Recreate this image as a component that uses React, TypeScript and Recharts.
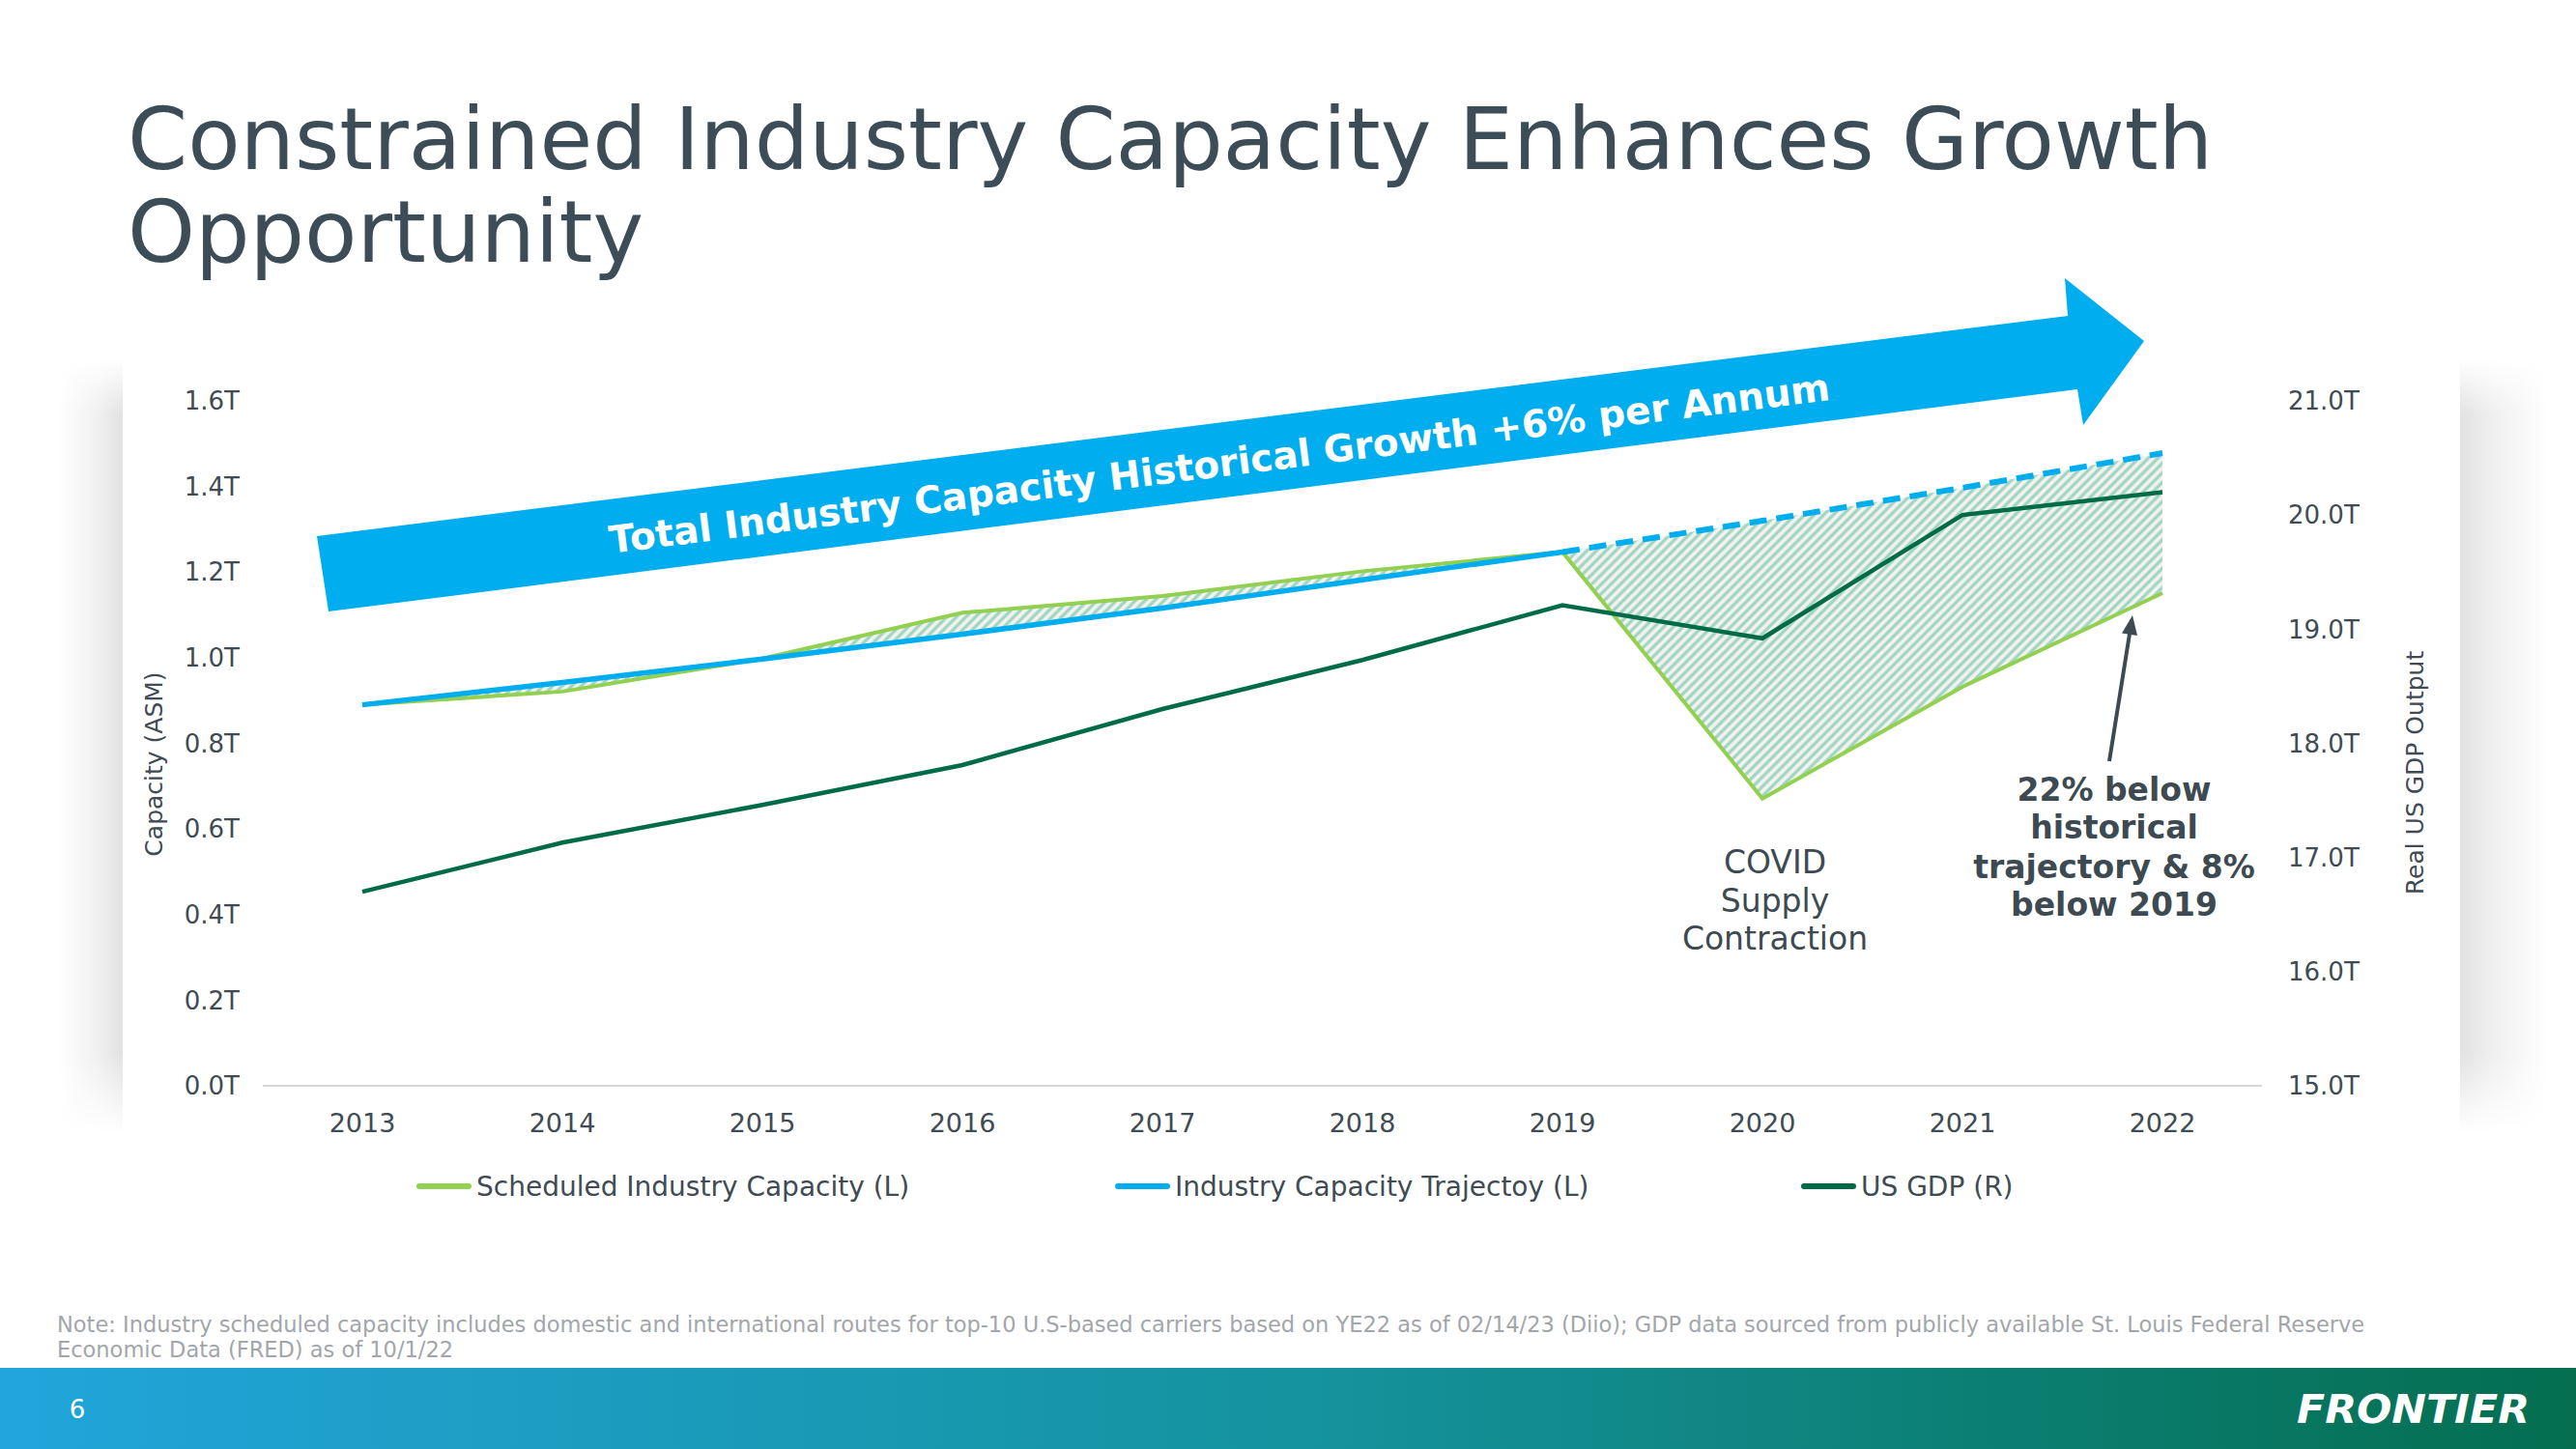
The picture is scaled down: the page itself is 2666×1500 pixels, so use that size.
import React from 'react';
import { ComposedChart, Line, Area, XAxis, YAxis } from 'recharts';

// ---------- data ----------
const years = ['2013', '2014', '2015', '2016', '2017', '2018', '2019', '2020', '2021', '2022'];
const scheduledCapacity = [0.89, 0.921, 0.998, 1.105, 1.144, 1.202, 1.247, 0.671, 0.932, 1.151]; // trillion ASM
const capacityTrajectory = [0.89, 0.942, 0.997, 1.055, 1.116, 1.182, 1.247, 1.32, 1.397, 1.478]; // trillion ASM
const usGdp = [16.7, 17.13, 17.46, 17.81, 18.3, 18.73, 19.21, 18.92, 20.0, 20.2]; // trillion USD
const projectionStartYear = '2019';
const leftTicks = [0, 0.2, 0.4, 0.6, 0.8, 1.0, 1.2, 1.4, 1.6];
const rightTicks = [15, 16, 17, 18, 19, 20, 21];
const seriesNames = ['Scheduled Industry Capacity (L)', 'Industry Capacity Trajectoy (L)', 'US GDP (R)'];
const seriesColors = ['#92d050', '#00aeef', '#006b47'];

const projIdx = years.indexOf(projectionStartYear);
const data = years.map((year, i) => ({
  year,
  scheduled: scheduledCapacity[i],
  trajSolid: i <= projIdx ? capacityTrajectory[i] : null,
  trajDashed: i >= projIdx ? capacityTrajectory[i] : null,
  gdp: usGdp[i],
  band: [Math.min(scheduledCapacity[i], capacityTrajectory[i]), Math.max(scheduledCapacity[i], capacityTrajectory[i])],
}));

const FONT = '"DejaVu Sans", Verdana, sans-serif';
const TEXT = '#3d4a52';

export default function App() {
  const legendLefts = [431, 1154, 1864];
  return (
    <div style={{ position: 'absolute', left: 0, top: 0, width: 2666, height: 1500, background: '#fff', overflow: 'hidden', fontFamily: FONT }}>
      {/* title */}
      <div style={{ position: 'absolute', left: 132, top: 96, fontSize: 89, lineHeight: '96px', color: '#3d4d57', whiteSpace: 'nowrap' }}>
        Constrained Industry Capacity Enhances Growth
        <br />
        Opportunity
      </div>

      {/* panel side shadows */}
      <div style={{ position: 'absolute', left: 60, top: 372, width: 67, height: 800, background: 'linear-gradient(to left, #e2e2e2 0%, #efefef 35%, rgba(255,255,255,0) 100%)', WebkitMaskImage: 'linear-gradient(to bottom, transparent 0%, black 7%, black 90%, transparent 100%)', maskImage: 'linear-gradient(to bottom, transparent 0%, black 7%, black 90%, transparent 100%)' }} />
      <div style={{ position: 'absolute', left: 2546, top: 372, width: 92, height: 800, background: 'linear-gradient(to right, #e2e2e2 0%, #efefef 35%, rgba(255,255,255,0) 100%)', WebkitMaskImage: 'linear-gradient(to bottom, transparent 0%, black 7%, black 90%, transparent 100%)', maskImage: 'linear-gradient(to bottom, transparent 0%, black 7%, black 90%, transparent 100%)' }} />

      {/* chart */}
      <div style={{ position: 'absolute', left: 0, top: 0 }}>
        <ComposedChart width={2666} height={1300} data={data} margin={{ top: 415, left: 152, right: 125, bottom: 116 }}>
          <defs>
            <pattern id="hatch" patternUnits="userSpaceOnUse" width="7" height="7" patternTransform="rotate(45)">
              <rect width="7" height="7" fill="#f4f3f1" />
              <line x1="3.5" y1="0" x2="3.5" y2="7" stroke="#a2d6c3" strokeWidth="3.4" />
            </pattern>
          </defs>
          <XAxis
            dataKey="year"
            padding={{ left: 103, right: 103 }}
            axisLine={{ stroke: '#d9d9d9', strokeWidth: 2 }}
            tickLine={false}
            tickSize={0}
            tickMargin={29}
            height={60}
            interval={0}
            tick={{ fontSize: 27, fill: '#404b53', fontFamily: FONT }}
          />
          <YAxis
            yAxisId="left"
            orientation="left"
            width={120}
            domain={[0, 1.6]}
            ticks={leftTicks}
            tickFormatter={(v: number) => `${v.toFixed(1)}T`}
            axisLine={false}
            tickLine={false}
            tickSize={0}
            tickMargin={24}
            tick={{ fontSize: 26, fill: '#404b53', fontFamily: FONT }}
          />
          <YAxis
            yAxisId="right"
            orientation="right"
            width={200}
            domain={[15, 21]}
            ticks={rightTicks}
            tickFormatter={(v: number) => `${v.toFixed(1)}T`}
            axisLine={false}
            tickLine={false}
            tickSize={0}
            tickMargin={27}
            tick={{ fontSize: 26, fill: '#404b53', fontFamily: FONT }}
          />
          <Area yAxisId="left" type="linear" dataKey="band" stroke="none" fill="url(#hatch)" fillOpacity={1} isAnimationActive={false} activeDot={false} />
          <Line yAxisId="left" type="linear" dataKey="scheduled" name={seriesNames[0]} stroke={seriesColors[0]} strokeWidth={4} dot={false} activeDot={false} isAnimationActive={false} />
          <Line yAxisId="right" type="linear" dataKey="gdp" name={seriesNames[2]} stroke={seriesColors[2]} strokeWidth={4.5} dot={false} activeDot={false} isAnimationActive={false} />
          <Line yAxisId="left" type="linear" dataKey="trajSolid" name={seriesNames[1]} stroke={seriesColors[1]} strokeWidth={5.5} dot={false} activeDot={false} isAnimationActive={false} />
          <Line yAxisId="left" type="linear" dataKey="trajDashed" name={seriesNames[1]} stroke={seriesColors[1]} strokeWidth={6} strokeDasharray="18 10" dot={false} activeDot={false} isAnimationActive={false} legendType="none" />
        </ComposedChart>
      </div>

      {/* legend */}
      {seriesNames.map((name, i) => (
        <div key={name} style={{ position: 'absolute', left: legendLefts[i], top: 1208, height: 40, display: 'flex', alignItems: 'center', whiteSpace: 'nowrap' }}>
          <div style={{ width: 57, height: 6, borderRadius: 3, background: seriesColors[i], marginRight: 5 }} />
          <span style={{ fontSize: 28, color: '#404b53' }}>{name}</span>
        </div>
      ))}

      {/* footnote */}
      <div style={{ position: 'absolute', left: 59, top: 1358, fontSize: 22.5, lineHeight: '26px', color: '#a2a6aa', whiteSpace: 'nowrap' }}>
        Note: Industry scheduled capacity includes domestic and international routes for top-10 U.S-based carriers based on YE22 as of 02/14/23 (Diio); GDP data sourced from publicly available St. Louis Federal Reserve
        <br />
        Economic Data (FRED) as of 10/1/22
      </div>

      {/* bottom bar */}
      <div style={{ position: 'absolute', left: 0, top: 1416, width: 2666, height: 84, background: 'linear-gradient(to right, #21a5db 0%, #15939f 50%, #046e4f 100%)' }} />

      {/* overlay decorations */}
      <svg width={2666} height={1500} style={{ position: 'absolute', left: 0, top: 0, pointerEvents: 'none' }} fontFamily={FONT}>
        <polygon points="328,555 2140,327 2137,288 2219,353 2156,440 2150,403 340,633" fill="#00aeef" />
        <text x={1262} y={480} transform="rotate(-7.17 1262 480)" textAnchor="middle" dominantBaseline="central" fontSize={39} fontWeight="bold" fill="#fff">
          Total Industry Capacity Historical Growth +6% per Annum
        </text>

        {/* axis titles */}
        <text x={159} y={791} transform="rotate(-90 159 791)" textAnchor="middle" dominantBaseline="central" fontSize={25} fill="#404b53">Capacity (ASM)</text>
        <text x={2499} y={800} transform="rotate(-90 2499 800)" textAnchor="middle" dominantBaseline="central" fontSize={25} fill="#404b53">Real US GDP Output</text>

        {/* COVID annotation */}
        <g fontSize={33} fill={TEXT} textAnchor="middle" dominantBaseline="central">
          <text x={1837} y={892}>COVID</text>
          <text x={1837} y={932}>Supply</text>
          <text x={1837} y={971}>Contraction</text>
        </g>
        {/* below trajectory annotation */}
        <g fontSize={33} fontWeight="bold" fill={TEXT} textAnchor="middle" dominantBaseline="central">
          <text x={2188} y={817}>22% below</text>
          <text x={2188} y={856}>historical</text>
          <text x={2188} y={897}>trajectory &amp; 8%</text>
          <text x={2188} y={936}>below 2019</text>
        </g>
        <line x1={2183} y1={788} x2={2204} y2={656} stroke={TEXT} strokeWidth={4} />
        <polygon points="2207,637 2212,658 2196,655.5" fill={TEXT} />

        {/* footer */}
        <text x={80} y={1459} textAnchor="middle" dominantBaseline="central" fontSize={26} fill="#fff">6</text>
        <text x={2377} y={1473} fontSize={40} fontWeight="bold" fontStyle="italic" fill="#fff" textLength={241} lengthAdjust="spacingAndGlyphs">FRONTIER</text>
      </svg>
    </div>
  );
}
